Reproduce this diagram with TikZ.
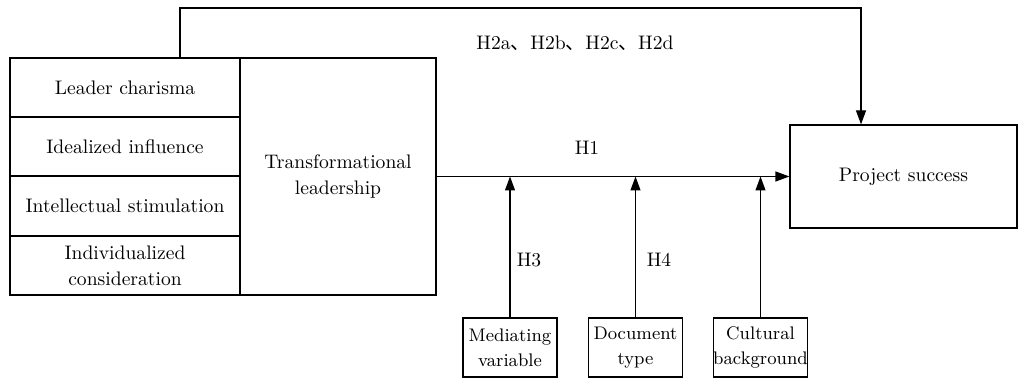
\documentclass[tikz,border=0pt]{standalone}
\usepackage{fontspec}
\newfontfamily\cjk{Noto Sans CJK SC}
\usepackage{tikz}
\usetikzlibrary{arrows.meta}

\tikzset{
  dimbox/.style = {draw, minimum width=115pt, minimum height=29.5pt, inner sep=1pt, align=center},
  leadbox/.style = {draw, minimum width=98pt, minimum height=118.5pt, inner sep=1pt, align=center},
  succbox/.style = {draw, minimum width=113.5pt, minimum height=51.5pt, inner sep=1pt, align=center},
  modbox/.style = {draw, minimum width=47pt, minimum height=29.5pt, inner sep=0pt, align=center,
                   font=\fontsize{9.1}{12.5}\selectfont},
  hlabel/.style = {inner sep=0pt}
}

\begin{document}
\begin{tikzpicture}[x=0.5pt, y=0.5pt, line width=0.6pt,
  font=\fontsize{9.8}{13}\selectfont,
  >={Triangle[length=7pt,width=5pt]}]
\useasboundingbox (0,0) rectangle (1020,379);
% dimensions of transformational leadership
\node[dimbox] (charisma) at (125,291.5) {Leader charisma};
\node[dimbox] (idealized) at (125,232.5) {Idealized influence};
\node[dimbox] (stimulation) at (125,173) {Intellectual stimulation};
\node[dimbox] (consideration) at (125,113.5) {Individualized\\consideration};
\node[leadbox] (leadership) at (338,202.5) {Transformational\\leadership};
\node[succbox] (success) at (903.5,202.5) {Project success};
% moderators
\node[modbox] (mediating) at (510,31.5) {Mediating\\variable};
\node[modbox] (doctype) at (635.5,31.5) {Document\\type};
\node[modbox] (culture) at (760.5,31.5) {Cultural\\background};
% connectors
\draw[->] (leadership) -- (success);
\coordinate (top) at (180,371);
\coordinate (drop) at (861,371);
\draw[->] (charisma.north -| top) -- (top) -| (success.north -| drop);
\draw[->] (mediating.north) -- (mediating.north |- leadership.east);
\draw[->] (doctype.north) -- (doctype.north |- leadership.east);
\draw[->] (culture.north) -- (culture.north |- leadership.east);
% hypotheses
\node[hlabel] (h2) at (575,336) {H2a{\cjk 、}H2b{\cjk 、}H2c{\cjk 、}H2d};
\node[hlabel] (h1) at (587,231) {H1};
\node[hlabel] (h3) at (529,119) {H3};
\node[hlabel] (h4) at (659,119) {H4};
\end{tikzpicture}
\end{document}
